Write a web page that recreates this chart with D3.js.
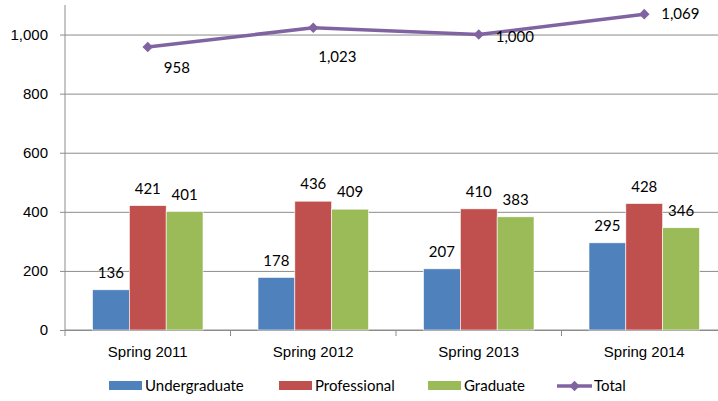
<!DOCTYPE html>
<html>
<head>
<meta charset="utf-8">
<script src="https://cdn.jsdelivr.net/npm/d3@7"></script>
<style>
  body { margin: 0; background: #fff; }
  svg { font-family: Lato, "Open Sans", sans-serif; font-size: 15px; }
  .grid line { stroke: #8c8c8c; }
</style>
</head>
<body>
<svg width="718" height="401"></svg>
<script>
// data
var terms = ["Spring 2011", "Spring 2012", "Spring 2013", "Spring 2014"];
var seriesNames = ["Undergraduate", "Professional", "Graduate"];
var undergraduate = [136, 178, 207, 295];
var professional = [421, 436, 410, 428];
var graduate = [401, 409, 383, 346];
var total = [958, 1023, 1000, 1069];
var yTicks = [0, 200, 400, 600, 800, 1000];

// label offsets for the total line (dx, dy from the marker)
var totalLabelOffset = [[16, 21], [5, 29], [17, 2], [17, 0]];

var colors = {Undergraduate: "#4f81bd", Professional: "#c0504d", Graduate: "#9bbb59", Total: "#8064a2"};

var svg = d3.select("svg"),
    margin = {top: 5, right: -9, bottom: 71, left: 65},
    width = +svg.attr("width") - margin.left - margin.right,
    height = +svg.attr("height") - margin.top - margin.bottom,
    g = svg.append("g").attr("transform", "translate(" + margin.left + "," + margin.top + ")");

var x0 = d3.scaleBand().domain(terms).range([0, width]).paddingInner(0).paddingOuter(0);
var x1 = d3.scaleBand().domain(seriesNames).range([27.5, x0.bandwidth() - 27.5]);
var y = d3.scaleLinear().domain([0, 1100]).range([height, 0]);

var rows = terms.map(function (t, i) {
    return {term: t, values: [
        {key: "Undergraduate", value: undergraduate[i]},
        {key: "Professional", value: professional[i]},
        {key: "Graduate", value: graduate[i]}
    ]};
});

// gridlines + y axis
g.append("g")
    .attr("class", "grid")
    .call(d3.axisLeft(y).tickValues(yTicks).tickSize(-width).tickFormat(""))
    .call(function (s) { s.select(".domain").remove(); s.selectAll("line").attr("x2", width).attr("x1", -5); });

var yAxis = g.append("g")
    .call(d3.axisLeft(y).tickValues(yTicks).tickSize(0).tickPadding(17).tickFormat(d3.format(",")));
yAxis.select(".domain").remove();
yAxis.selectAll("text").attr("fill", "#000").style("font-size", "15px").attr("font-family", null);

g.append("line")
    .attr("x1", 0).attr("x2", 0)
    .attr("y1", 0).attr("y2", height + 6)
    .attr("stroke", "#8c8c8c");

// x axis
var xAxis = g.append("g")
    .attr("transform", "translate(0," + height + ")")
    .call(d3.axisBottom(x0).tickSize(0).tickPadding(16));
xAxis.select(".domain").attr("stroke", "#8c8c8c").attr("d", "M0,0H" + width);
xAxis.selectAll("text").attr("fill", "#000").style("font-size", "15px").attr("font-family", null);

g.append("g").selectAll("line")
    .data(terms.slice(1))
    .enter().append("line")
    .attr("x1", function (d) { return x0(d); })
    .attr("x2", function (d) { return x0(d); })
    .attr("y1", height).attr("y2", height + 6)
    .attr("stroke", "#8c8c8c");

// bars
var groups = g.selectAll(".term")
    .data(rows)
    .enter().append("g")
    .attr("class", "term")
    .attr("transform", function (d) { return "translate(" + x0(d.term) + ",0)"; });

groups.selectAll("rect")
    .data(function (d) { return d.values; })
    .enter().append("rect")
    .attr("x", function (d) { return x1(d.key); })
    .attr("width", x1.bandwidth())
    .attr("y", function (d) { return y(d.value); })
    .attr("height", function (d) { return height - y(d.value); })
    .attr("fill", function (d) { return colors[d.key]; })
    .attr("stroke", "#fff")
    .attr("stroke-width", 0.6);

groups.selectAll(".barlabel")
    .data(function (d) { return d.values; })
    .enter().append("text")
    .attr("class", "barlabel")
    .attr("x", function (d) { return x1(d.key) + x1.bandwidth() / 2; })
    .attr("y", function (d) { return y(d.value) - 17; })
    .attr("dy", "0.35em")
    .attr("text-anchor", "middle")
    .text(function (d) { return d.value; });

// total line
var cx = function (i) { return x0(terms[i]) + x0.bandwidth() / 2; };
var line = d3.line()
    .x(function (d, i) { return cx(i); })
    .y(function (d) { return y(d); });

g.append("path")
    .datum(total)
    .attr("d", line)
    .attr("fill", "none")
    .attr("stroke", colors.Total)
    .attr("stroke-width", 3.5);

var diamond = d3.symbol().type(d3.symbolSquare).size(56);
g.selectAll(".marker")
    .data(total)
    .enter().append("path")
    .attr("class", "marker")
    .attr("d", diamond)
    .attr("transform", function (d, i) { return "translate(" + cx(i) + "," + y(d) + ") rotate(45)"; })
    .attr("fill", colors.Total);

g.selectAll(".totallabel")
    .data(total)
    .enter().append("text")
    .attr("class", "totallabel")
    .attr("x", function (d, i) { return cx(i) + totalLabelOffset[i][0]; })
    .attr("y", function (d, i) { return y(d) + totalLabelOffset[i][1]; })
    .attr("dy", "0.35em")
    .text(function (d) { return d3.format(",")(d); });

// legend
var legendItems = [
    {key: "Undergraduate", x: 109},
    {key: "Professional", x: 279},
    {key: "Graduate", x: 428},
    {key: "Total", x: 557}
];
var legend = svg.append("g").selectAll("g")
    .data(legendItems)
    .enter().append("g")
    .attr("transform", function (d) { return "translate(" + d.x + ",386)"; });

legend.filter(function (d) { return d.key !== "Total"; })
    .append("rect")
    .attr("x", 0).attr("y", -5)
    .attr("width", 33).attr("height", 9)
    .attr("fill", function (d) { return colors[d.key]; });

var tot = legend.filter(function (d) { return d.key === "Total"; });
tot.append("line")
    .attr("x1", 0).attr("x2", 35)
    .attr("stroke", colors.Total).attr("stroke-width", 3.5);
tot.append("path")
    .attr("d", diamond)
    .attr("transform", "translate(17.5,0) rotate(45)")
    .attr("fill", colors.Total);

legend.append("text")
    .attr("x", function (d) { return d.key === "Total" ? 37 : 36; })
    .attr("dy", "0.35em")
    .text(function (d) { return d.key; });
</script>
</body>
</html>
